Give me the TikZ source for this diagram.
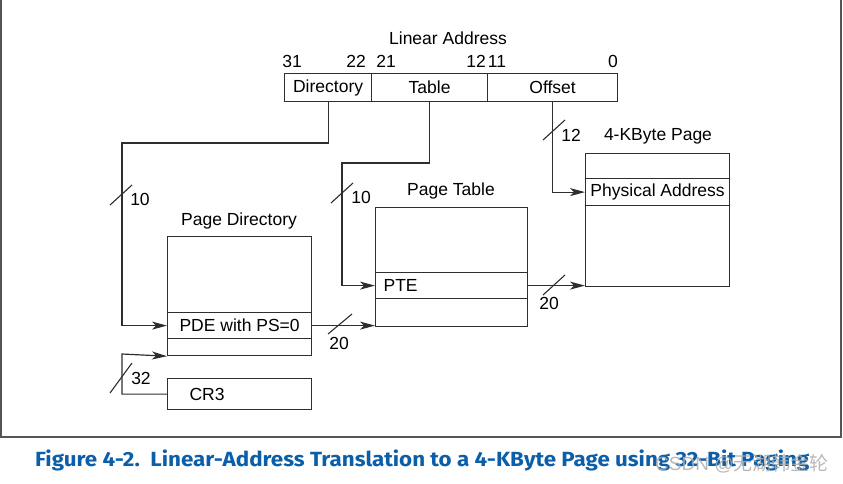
\documentclass[tikz,border=0pt]{standalone}
\usepackage{fontspec}
\setmainfont{Liberation Sans}
\newfontfamily\capfont{Fira Sans}
\newfontfamily\cjk{Noto Sans CJK SC}
\usetikzlibrary{arrows.meta}
\definecolor{ln}{HTML}{2E2E2E}
\definecolor{capblue}{HTML}{0B5EA8}
\definecolor{frame}{HTML}{555555}
\begin{document}
\begin{tikzpicture}[x=1pt,y=-1pt,
  every node/.style={font=\fontsize{17.5}{20}\selectfont, text=black},
  box/.style={draw=ln, line width=1.2pt, inner sep=0pt, anchor=north west, minimum width=#1},
  lab/.style={inner sep=0pt},
  wire/.style={draw=ln, line width=1.2pt},
  arr/.style={wire, -{Stealth[length=15pt,width=8pt,inset=4pt]}},
  slash/.style={draw=ln, line width=1.1pt}]
\useasboundingbox (0,0) rectangle (843,483);
% outer frame
\draw[frame, line width=1.5pt] (1,-5) -- (1,437) -- (841,437) -- (841,-5);

% linear address
\node[lab] (latitle) at (448,38) {Linear Address};
\node[lab] (b31) at (292,61) {31};
\node[lab] (b22) at (356,61) {22};
\node[lab] (b21) at (386,61) {21};
\node[lab] (b12) at (476,61) {12};
\node[lab] (b11) at (497,61) {11};
\node[lab] (b0)  at (613,61) {0};
\node[box=87pt, minimum height=28pt] (dir) at (284,73) {Directory};
\node[box=116pt, minimum height=28pt] (tab) at (371,73) {Table};
\node[box=130pt, minimum height=28pt] (off) at (487,73) {Offset};

% page directory
\node[lab] (pdtitle) at (239,221) {Page Directory};
\node[box=144pt, minimum height=76pt] (pd1) at (167,236) {};
\node[box=144pt, minimum height=26pt] (pde) at (167,312) {PDE with PS=0};
\node[box=144pt, minimum height=17pt] (pd3) at (167,338) {};
\node[box=144pt, minimum height=31pt, align=left, text width=100pt, inner xsep=22pt] (cr3) at (167,378) {CR3};

% page table
\node[lab] (pttitle) at (451,191) {Page Table};
\node[box=152pt, minimum height=65pt] (pt1) at (375,207) {};
\node[box=152pt, minimum height=26pt, align=left, text width=136pt, inner xsep=8pt] (pte) at (375,272) {PTE};
\node[box=152pt, minimum height=28pt] (pt3) at (375,298) {};

% 4-KByte page
\node[lab] (pgtitle) at (658,136) {4-KByte Page};
\node[box=144pt, minimum height=25pt] (pg1) at (585,153) {};
\node[box=144pt, minimum height=27pt] (pa) at (585,178) {Physical Address};
\node[box=144pt, minimum height=81pt] (pg3) at (585,205) {};

% connectors
\coordinate (k1) at (122,143);
\coordinate (k2) at (342,163);
\coordinate (k3) at (122,354);
\draw[arr] (dir.south) |- (k1) |- (pde.west);
\draw[arr] (tab.south) |- (k2) |- (pte.west);
\draw[arr] (off.south) |- (pa.west);
\draw[arr] (pde.east) -- (pde.east -| pt3.south west);
\draw[arr] (pte.east) -- (pte.east -| pg3.south west);
\draw[arr] (cr3.west) -| (k3) -- (pd3.south west);

% width slashes and labels
\draw[slash] (121,195) +(-11,10) -- +(11,-10);
\node[lab] (l10a) at (140,199) {10};
\draw[slash] (342,193) +(-11,10) -- +(11,-10);
\node[lab] (l10b) at (361,197) {10};
\draw[slash] (554,130) +(-11,10) -- +(11,-10);
\node[lab] (l12) at (571,135) {12};
\draw[slash] (340,324) +(-12,10) -- +(12,-10);
\node[lab] (l20a) at (339,343) {20};
\draw[slash] (554,285) +(-11,10) -- +(11,-10);
\node[lab] (l20b) at (549,303) {20};
\draw[slash] (121,378) +(-11,15) -- +(11,-15);
\node[lab] (l32) at (141,378) {32};

% caption
\node[lab, anchor=west, text=capblue, font=\capfont\bfseries\fontsize{20.5}{23}\selectfont] (cap) at (35,460)
  {\scalebox{1.09}[1]{Figure 4-2.\ \ Linear-Address Translation to a 4-KByte Page using 32-Bit Paging}};
\node[lab, anchor=west, text=gray!65, opacity=0.85, font=\fontsize{19}{22}\selectfont] (wm) at (655,464)
  {CSDN @{\cjk 无湖韩金轮}};
\end{tikzpicture}
\end{document}
